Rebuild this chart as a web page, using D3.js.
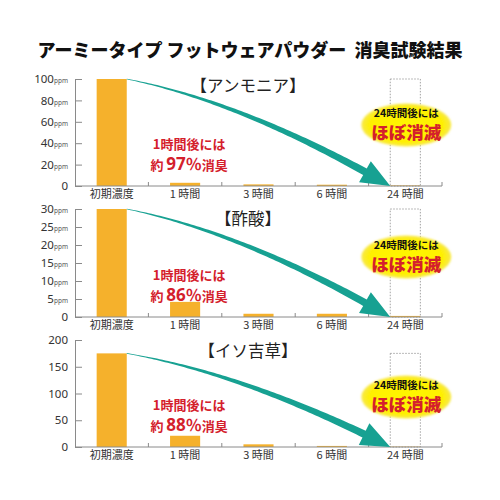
<!DOCTYPE html>
<html><head><meta charset="utf-8">
<script src="https://cdn.jsdelivr.net/npm/d3@7/dist/d3.min.js"></script>
<style>
html,body{margin:0;padding:0;background:#fff;}
svg{display:block;font-family:"Noto Sans CJK JP","Noto Sans",sans-serif;}
</style></head>
<body>
<svg id="chart" width="500" height="500"></svg>
<script>
// ---- data ----
const chartTitle = "アーミータイプ フットウェアパウダー  消臭試験結果";
const categories = ["初期濃度", "1 時間", "3 時間", "6 時間", "24 時間"];
const panelNames = ["【アンモニア】", "【酢酸】", "【イソ吉草】"];
const ammoniaValues = [100, 3, 1.5, 1.2, 0.5];
const aceticValues = [30, 4.2, 0.9, 0.9, 0.3];
const isovalericValues = [175, 21, 5, 2, 0.6];
const ammoniaTicks = [0, 20, 40, 60, 80, 100];
const aceticTicks = [0, 5, 10, 15, 20, 25, 30];
const isovalericTicks = [0, 50, 100, 150, 200];
const tickUnits = ["ppm", "ppm", ""];
const reductionPct = ["97", "86", "88"];
const note1 = "1時間後には";
const bubbleLine1 = "24時間後には";
const bubbleLine2 = "ほぼ消滅";

// ---- layout ----
const panels = [
  {name: panelNames[0], values: ammoniaValues, ticks: ammoniaTicks, unit: tickUnits[0], pct: reductionPct[0], top: 79, bottom: 186, titleDy: 13, bubbleDy: -61},
  {name: panelNames[1], values: aceticValues, ticks: aceticTicks, unit: tickUnits[1], pct: reductionPct[1], top: 209, bottom: 317, titleDy: 16, bubbleDy: -60},
  {name: panelNames[2], values: isovalericValues, ticks: isovalericTicks, unit: tickUnits[2], pct: reductionPct[2], top: 340, bottom: 447, titleDy: 17, bubbleDy: -50}
];
const barColor = "#F5B12C";
const teal = "#17A192";
const red = "#D4202C";
const axisColor = "#8a8a8a";

const svg = d3.select("#chart");
const defs = svg.append("defs");
const rg = defs.append("radialGradient").attr("id", "glow");
rg.append("stop").attr("offset", "0%").attr("stop-color", "#FFF600");
rg.append("stop").attr("offset", "80%").attr("stop-color", "#FFF000");
rg.append("stop").attr("offset", "100%").attr("stop-color", "#F7E84A");
const blur = defs.append("filter").attr("id", "soft").attr("x", "-20%").attr("y", "-20%").attr("width", "140%").attr("height", "140%");
blur.append("feGaussianBlur").attr("stdDeviation", 1.2);

svg.append("text").attr("x", 250).attr("y", 57).attr("text-anchor", "middle")
  .attr("font-size", 18).attr("font-weight", 900).attr("fill", "#111")
  .style("white-space", "pre")
  .text(chartTitle);

const x = d3.scaleBand().domain(categories).range([75, 442]).paddingInner(0).paddingOuter(0);
const bw = x.bandwidth();
const barW = bw * 0.41;
const barOff = (bw - barW) / 2;

panels.forEach((p, pi) => {
  const g = svg.append("g");
  const maxT = p.ticks[p.ticks.length - 1];
  const y = d3.scaleLinear().domain([0, maxT]).range([p.bottom, p.top]);

  // dotted box at 24h
  const last = categories[categories.length - 1];
  g.append("rect")
    .attr("x", x(last) + barOff).attr("y", y(p.values[0]))
    .attr("width", barW).attr("height", p.bottom - y(p.values[0]))
    .attr("fill", "none").attr("stroke", "#9a9a9a").attr("stroke-width", 0.9)
    .attr("stroke-dasharray", "1.5,1.5");

  // bars
  g.selectAll("rect.bar").data(p.values).join("rect").attr("class", "bar")
    .attr("x", (d, i) => x(categories[i]) + barOff)
    .attr("y", d => y(d))
    .attr("width", barW)
    .attr("height", d => p.bottom - y(d))
    .attr("fill", barColor);

  // y axis
  const ax = d3.axisLeft(y).tickValues(p.ticks).tickSize(-7).tickPadding(7).tickSizeOuter(0);
  const ag = g.append("g").attr("transform", "translate(75,0)").call(ax);
  ag.select(".domain").attr("stroke", axisColor);
  ag.selectAll(".tick line").attr("stroke", axisColor);
  ag.selectAll(".tick text").each(function(d) {
    const t = d3.select(this);
    t.text(null).attr("fill", "#333").attr("font-size", 11.5)
      .attr("font-family", "'Noto Sans', 'Open Sans', sans-serif");
    t.append("tspan").text(d);
    if (d !== 0 && p.unit) t.append("tspan").attr("font-size", 6.5).attr("fill", "#555").text(p.unit);
  });

  // x axis
  g.append("line").attr("x1", 75).attr("x2", x.range()[1]).attr("y1", p.bottom).attr("y2", p.bottom)
    .attr("stroke", axisColor).attr("stroke-width", 1);
  g.selectAll("line.xt").data(categories.slice(1).concat(["__end"])).join("line").attr("class", "xt")
    .attr("x1", d => d === "__end" ? x.range()[1] : x(d))
    .attr("x2", d => d === "__end" ? x.range()[1] : x(d))
    .attr("y1", p.bottom).attr("y2", p.bottom - 4)
    .attr("stroke", axisColor);
  g.selectAll("text.xl").data(categories).join("text").attr("class", "xl")
    .attr("x", d => x(d) + bw / 2).attr("y", p.bottom + 12)
    .attr("text-anchor", "middle").attr("font-size", 11).attr("fill", "#333")
    .text(d => d);

  // panel title
  g.append("text").attr("x", 248).attr("y", p.top + p.titleDy).attr("text-anchor", "middle")
    .attr("font-size", 16.5).attr("fill", "#222").text(p.name);

  // arrow
  const P0 = [x(categories[0]) + barOff + barW, y(p.values[0])];
  const P2 = [x(last) + barOff, y(0)];
  const C = [P0[0] + 0.45 * (P2[0] - P0[0]), P0[1] + 0.22 * (P2[1] - P0[1])];
  const bez = t => [
    (1 - t) * (1 - t) * P0[0] + 2 * t * (1 - t) * C[0] + t * t * P2[0],
    (1 - t) * (1 - t) * P0[1] + 2 * t * (1 - t) * C[1] + t * t * P2[1]
  ];
  const headLen = 29, headHW = 12;
  let tb = 1;
  for (let t = 1; t > 0; t -= 0.001) {
    const q = bez(t);
    if (Math.hypot(P2[0] - q[0], P2[1] - q[1]) >= headLen) { tb = t; break; }
  }
  const N = 80, left = [], right = [];
  for (let i = 0; i <= N; i++) {
    const t = tb * i / N;
    const q = bez(t);
    const dx = 2 * (1 - t) * (C[0] - P0[0]) + 2 * t * (P2[0] - C[0]);
    const dy = 2 * (1 - t) * (C[1] - P0[1]) + 2 * t * (P2[1] - C[1]);
    const L = Math.hypot(dx, dy);
    const nx = -dy / L, ny = dx / L;
    const w = 0.3 + 3.4 * (i / N);
    left.push([q[0] + nx * w, q[1] + ny * w]);
    right.push([q[0] - nx * w, q[1] - ny * w]);
  }
  const B = bez(tb);
  const dL = Math.hypot(P2[0] - B[0], P2[1] - B[1]);
  const ux = (P2[0] - B[0]) / dL, uy = (P2[1] - B[1]) / dL;
  const hx = -uy, hy = ux;
  const pts = left.concat([
    [B[0] + hx * headHW, B[1] + hy * headHW],
    P2,
    [B[0] - hx * headHW, B[1] - hy * headHW]
  ]).concat(right.reverse());
  g.append("path").attr("d", d3.line()(pts) + "Z").attr("fill", teal);

  // red note
  const cx1 = x(categories[1]) + bw / 2 + 4;
  g.append("text").attr("x", cx1).attr("y", p.bottom - 37).attr("text-anchor", "middle")
    .attr("font-size", 13).attr("font-weight", 700).attr("fill", red).text(note1);
  const t2 = g.append("text").attr("x", cx1).attr("y", p.bottom - 16).attr("text-anchor", "middle")
    .attr("font-weight", 700).attr("fill", red);
  t2.append("tspan").attr("font-size", 13).text("約 ");
  t2.append("tspan").attr("font-size", 17).attr("font-family", "'Noto Sans', sans-serif").text(p.pct);
  t2.append("tspan").attr("font-size", 16).text("％");
  t2.append("tspan").attr("font-size", 13).text("消臭");

  // bubble
  const bx = x(last) + bw / 2 + 1, by = p.bottom + p.bubbleDy;
  g.append("ellipse").attr("cx", bx).attr("cy", by).attr("rx", 45).attr("ry", 21.5)
    .attr("fill", "url(#glow)").attr("filter", "url(#soft)");
  g.append("text").attr("x", bx).attr("y", by - 8).attr("text-anchor", "middle")
    .attr("font-size", 10.5).attr("font-weight", 700).attr("fill", "#111").text(bubbleLine1);
  g.append("text").attr("x", bx).attr("y", by + 14).attr("text-anchor", "middle")
    .attr("font-size", 17.5).attr("font-weight", 900).attr("fill", red).text(bubbleLine2);
});
</script>
</body></html>
